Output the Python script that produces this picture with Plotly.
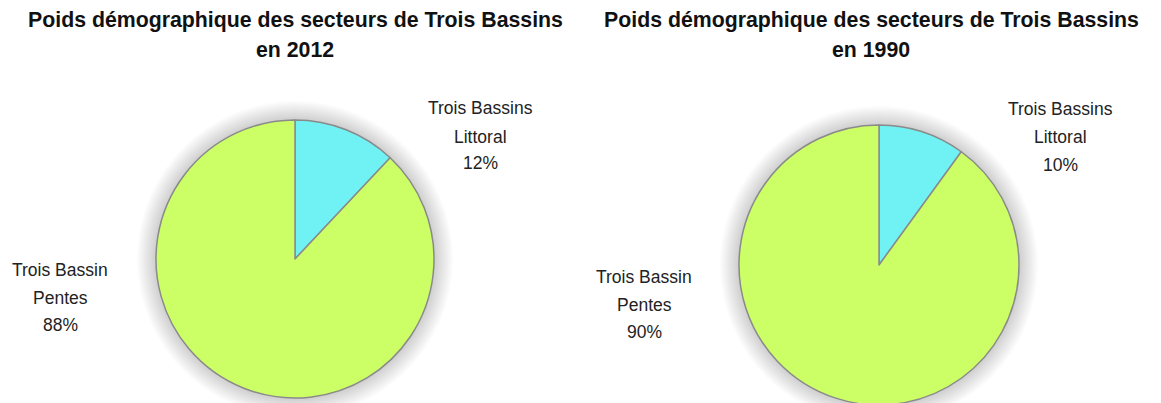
import plotly.graph_objects as go

# ---- data ----
categories = ["Trois Bassins Littoral", "Trois Bassin Pentes"]
values_2012 = [12, 88]
values_1990 = [10, 90]
years = ["2012", "1990"]
title_main = "Poids démographique des secteurs de Trois Bassins"

# ---- styling ----
W, H = 1161, 403
OFF = 8  # page body margin offset
colors = ["#70F2F4", "#CCFF66"]
line_col = "#8a8a8a"
font_fam = "Liberation Sans, Arial, sans-serif"

# pie geometry (screen pixels, top-left origin)
pies = [
    dict(cx=295, cy=259, r=139, values=values_2012, year=years[0],
         title_x=295,
         lab=[(480, [108, 137, 163]), (60, [270, 298, 325])]),
    dict(cx=879, cy=265, r=140, values=values_1990, year=years[1],
         title_x=871,
         lab=[(1060, [109, 137, 165]), (644, [277, 305, 332])]),
]


def px(x):
    return (x - OFF) / W


def py(y):
    return (H - (y - OFF)) / H


fig = go.Figure()
shapes = []
annotations = []

for p in pies:
    cx, cy, r = p["cx"], p["cy"], p["r"]
    fig.add_trace(go.Pie(
        labels=categories, values=p["values"], sort=False,
        direction="clockwise", rotation=0,
        marker=dict(colors=colors, line=dict(color=line_col, width=1.5)),
        textinfo="none", hoverinfo="label+percent",
        domain=dict(x=[px(cx - r), px(cx + r)],
                    y=[max(py(cy + r), 0), py(cy - r)]),
        showlegend=False,
    ))
    # soft shadow behind the pie
    n = 16
    for i in range(n, 0, -1):
        rr = r + i * 1.2
        shapes.append(dict(
            type="circle", xref="paper", yref="paper", layer="below",
            x0=px(cx - rr), x1=px(cx + rr),
            y0=py(cy + rr), y1=py(cy - rr),
            fillcolor="rgba(0,0,0,0.013)", line=dict(width=0),
        ))
    # titles
    for txt, ty in [(title_main, 20), ("en " + p["year"], 50)]:
        annotations.append(dict(
            text="<b>%s</b>" % txt, x=px(p["title_x"]), y=py(ty),
            xref="paper", yref="paper", showarrow=False,
            xanchor="center", yanchor="middle",
            font=dict(family=font_fam, size=21.3, color="#111111"),
        ))
    # labels
    for cat, val, (lx, lys) in zip(categories, p["values"], p["lab"]):
        l1, l2 = cat.rsplit(" ", 1)
        for txt, ly in zip([l1, l2, "%d%%" % val], lys):
            annotations.append(dict(
                text=txt, x=px(lx), y=py(ly),
                xref="paper", yref="paper", showarrow=False,
                xanchor="center", yanchor="middle",
                font=dict(family=font_fam, size=17.5, color="#222222"),
            ))

fig.update_layout(
    width=W, height=H,
    margin=dict(l=0, r=0, t=0, b=0),
    paper_bgcolor="white", plot_bgcolor="white",
    shapes=shapes, annotations=annotations,
)

fig.write_html("out.html")
